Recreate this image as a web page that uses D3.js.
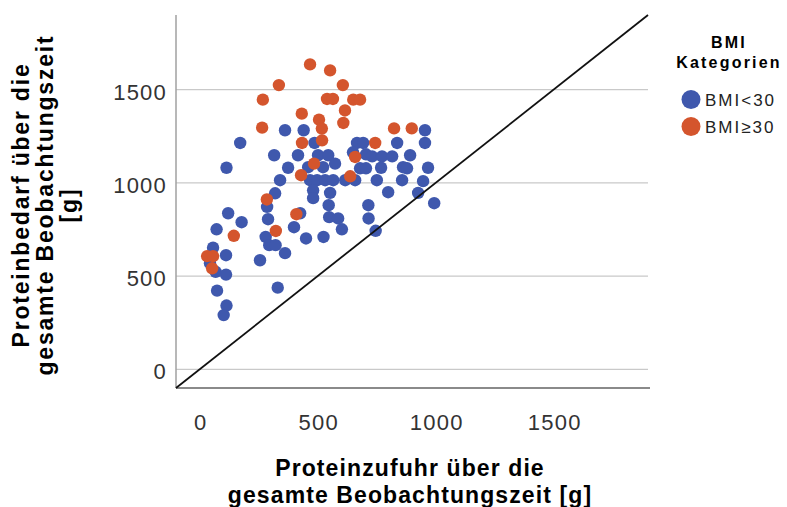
<!DOCTYPE html>
<html>
<head>
<meta charset="utf-8">
<script src="https://cdn.jsdelivr.net/npm/d3@7"></script>
<style>
  body { margin: 0; background: #fff; }
  svg { font-family: "Liberation Sans", Arial, sans-serif; }
</style>
</head>
<body>
<div id="scatter_protein"></div>
<script>
// categories + values (intake x, need y, in g)
const categories = ["BMI<30", "BMI\u226530"];
const colors = ["#3f58ad", "#d4552d"];

const intakeBelow30 = [362, 441, 955, 172, 487, 667, 693, 837, 955,
  316, 417, 502, 545, 650, 705, 731, 773, 816, 892,
  114, 375, 460, 523, 574, 680, 705, 769, 862, 879, 968,
  341, 468, 498, 532, 566, 617, 659, 751, 858, 947,
  320, 481, 481, 553, 799, 926,
  286, 547, 715, 994,
  121, 426, 290, 549, 587, 716,
  178, 72, 400, 603, 746,
  280, 451, 525, 295, 322,
  57, 112, 362, 256, 44, 68, 112,
  74, 331, 114, 102];
const needBelow30 = [1282, 1282, 1282, 1214, 1214, 1214, 1214, 1214, 1214,
  1148, 1148, 1148, 1148, 1164, 1153, 1142, 1142, 1142, 1148,
  1081, 1081, 1084, 1084, 1103, 1078, 1078, 1081, 1084, 1078, 1081,
  1014, 1014, 1014, 1014, 1014, 1014, 1014, 1014, 1014, 1009,
  944, 960, 918, 946, 950, 946,
  871, 880, 880, 891,
  837, 837, 805, 816, 809, 809,
  789, 751, 762, 751, 743,
  710, 702, 710, 666, 666,
  652, 612, 623, 585, 569, 523, 508,
  422, 438, 342, 291];

const intakeAbove30 = [468, 553, 336, 607, 268, 540, 565, 651, 680, 616,
  433, 609, 506, 518, 265, 824, 899, 519, 434, 744,
  659, 485, 430, 638, 285, 410, 323, 145, 32, 57, 53];
const needAbove30 = [1635, 1603, 1524, 1524, 1446, 1450, 1450, 1446, 1446, 1388,
  1371, 1321, 1339, 1291, 1296, 1292, 1292, 1228, 1214, 1214,
  1139, 1103, 1041, 1035, 911, 832, 742, 716, 607, 607, 542];

const xTicks = [0, 500, 1000, 1500];
const yTicks = [0, 500, 1000, 1500];

const W = 787, H = 507;
const plot = {left: 176, right: 648, top: 15, bottom: 388};

const svg = d3.select("#scatter_protein")
  .append("svg")
  .attr("width", W)
  .attr("height", H);

const x = d3.scaleLinear()
  .domain([-100, 1900])
  .range([plot.left, plot.right]);

const y = d3.scaleLinear()
  .domain([-100, 1900])
  .range([plot.bottom, plot.top]);

// gridlines
svg.append("g")
  .selectAll("line")
  .data(yTicks)
  .join("line")
    .attr("x1", plot.left)
    .attr("x2", plot.right)
    .attr("y1", d => y(d))
    .attr("y2", d => y(d))
    .attr("stroke", "#c9c9c9")
    .attr("stroke-width", 1.3);

// y axis labels
svg.append("g")
  .attr("transform", `translate(${plot.left},0)`)
  .call(d3.axisLeft(y).tickValues(yTicks).tickFormat(d3.format("d")).tickSize(0).tickPadding(9))
  .call(g => g.select(".domain").remove())
  .selectAll("text")
    .attr("dy", "0.43em")
    .style("font-size", "22px")
    .style("letter-spacing", "1.2px")
    .style("fill", "#333")
    .style("font-family", "'Liberation Sans', Arial, sans-serif");

// x axis labels
svg.append("g")
  .attr("transform", `translate(0,${plot.bottom})`)
  .call(d3.axisBottom(x).tickValues(xTicks).tickFormat(d3.format("d")).tickSize(0).tickPadding(26))
  .call(g => g.select(".domain").remove())
  .selectAll("text")
    .attr("dx", "0.6px")
    .style("font-size", "22px")
    .style("letter-spacing", "1.2px")
    .style("fill", "#333")
    .style("font-family", "'Liberation Sans', Arial, sans-serif");

// frame lines
svg.append("line")
  .attr("x1", plot.left).attr("x2", plot.left)
  .attr("y1", plot.top).attr("y2", plot.bottom)
  .attr("stroke", "#a0a0a0").attr("stroke-width", 1.5);
svg.append("line")
  .attr("x1", plot.left).attr("x2", plot.right + 2)
  .attr("y1", plot.bottom).attr("y2", plot.bottom)
  .attr("stroke", "#8a8a8a").attr("stroke-width", 2);

// points
const pointsLow = intakeBelow30.map((v, i) => ({x: v, y: needBelow30[i], c: 0}));
const pointsHigh = intakeAbove30.map((v, i) => ({x: v, y: needAbove30[i], c: 1}));

svg.append("g")
  .selectAll("circle")
  .data(pointsLow.concat(pointsHigh))
  .join("circle")
    .attr("cx", d => x(d.x))
    .attr("cy", d => y(d.y))
    .attr("r", 6.2)
    .style("fill", d => colors[d.c]);

// reference line y = x
svg.append("line")
  .attr("x1", x(-100)).attr("y1", y(-100))
  .attr("x2", x(1900)).attr("y2", y(1900))
  .attr("stroke", "#111")
  .attr("stroke-width", 1.8);

// axis titles
const xTitle = svg.append("text")
  .attr("text-anchor", "middle")
  .style("font-size", "23px")
  .style("font-weight", "bold")
  .style("letter-spacing", "1.1px")
  .style("fill", "#000");
xTitle.append("tspan").attr("x", 410).attr("y", 476).text("Proteinzufuhr über die");
xTitle.append("tspan").attr("x", 410).attr("y", 503).text("gesamte Beobachtungszeit [g]");

const yTitle = svg.append("text")
  .attr("transform", "translate(0,205) rotate(-90)")
  .attr("text-anchor", "middle")
  .style("font-size", "23px")
  .style("font-weight", "bold")
  .style("letter-spacing", "1.8px")
  .style("fill", "#000");
yTitle.append("tspan").attr("x", 0).attr("y", 29).text("Proteinbedarf über die");
yTitle.append("tspan").attr("x", 0).attr("y", 53).text("gesamte Beobachtungszeit");
yTitle.append("tspan").attr("x", 0).attr("y", 77).text("[g]");

// legend
const legend = svg.append("g");
legend.append("text")
  .attr("text-anchor", "middle")
  .style("font-size", "16px")
  .style("font-weight", "bold")
  .style("letter-spacing", "2.2px")
  .selectAll("tspan")
  .data(["BMI", "Kategorien"])
  .join("tspan")
    .attr("x", 729)
    .attr("y", (d, i) => 48 + i * 20)
    .text(d => d);

legend.selectAll("circle")
  .data(categories)
  .join("circle")
    .attr("cx", 691)
    .attr("cy", (d, i) => 99.5 + i * 27)
    .attr("r", 9.5)
    .style("fill", (d, i) => colors[i]);

legend.selectAll("text.item")
  .data(categories)
  .join("text")
    .attr("class", "item")
    .attr("x", 705)
    .attr("y", (d, i) => 106 + i * 27)
    .style("font-size", "17px")
    .style("letter-spacing", "2px")
    .style("fill", "#222")
    .text(d => d);
</script>
</body>
</html>
